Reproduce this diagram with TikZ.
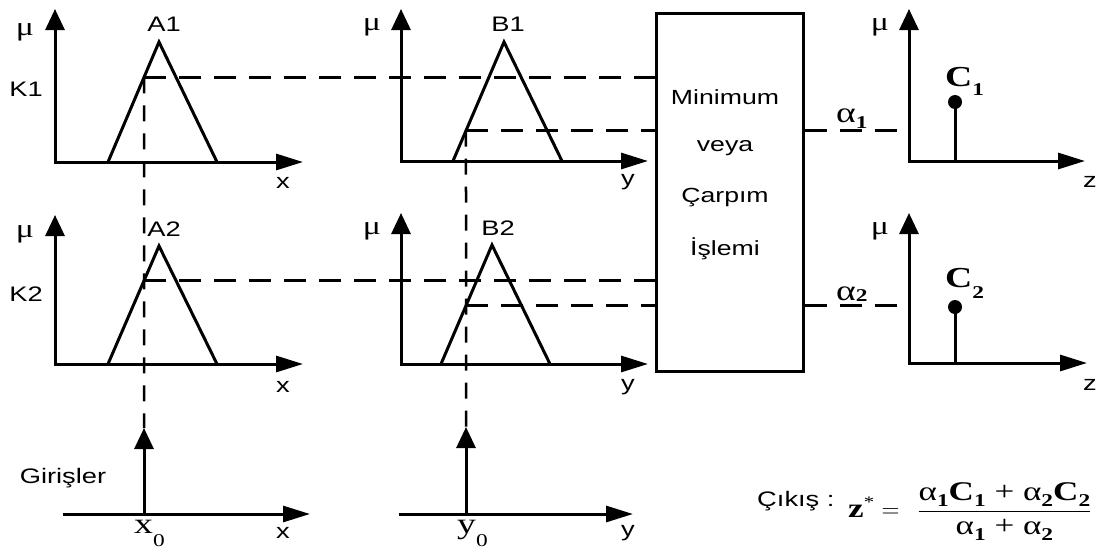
\documentclass[tikz,border=0pt]{standalone}
\usepackage{fontspec}
\setmainfont{Liberation Sans}[FakeStretch=1.3]
\newfontfamily\grk{Liberation Serif}[FakeStretch=1.3]
\usetikzlibrary{arrows.meta,positioning,calc}

% lowered bold index, as in alpha_1 or C_1
\newcommand{\bsub}[2]{\raisebox{#1}{\grk\bfseries\fontsize{18}{18}\selectfont #2}}

\tikzset{
  muaxes/.style={line width=3pt, line join=miter,
    {Triangle[length=21pt,width=19pt]}-{Triangle[length=27pt,width=16pt]}},
  inarrow/.style={line width=3pt, -{Triangle[length=21pt,width=19pt]}},
  inaxis/.style={line width=3pt, -{Triangle[length=27pt,width=16pt]}},
  mf/.style={line width=3pt, line join=miter},
  hguide/.style={line width=2.5pt, dash pattern=on 22pt off 13pt},
  vguide/.style={line width=2.5pt, dash pattern=on 16pt off 12pt},
  lbl/.style={font=\fontsize{21}{23}\selectfont, inner sep=0pt},
  mulbl/.style={font=\grk\fontsize{26}{26}\selectfont, inner sep=0pt},
  boxtxt/.style={font=\fontsize{20.5}{22}\selectfont, inner sep=0pt},
  clbl/.style={inner sep=0pt, anchor=base west, font=\grk\bfseries\fontsize{29}{29}\selectfont},
  albl/.style={inner sep=0pt, anchor=base west, font=\grk\fontsize{29}{29}\selectfont},
  dot/.style={circle, fill=black, minimum size=14pt, inner sep=0pt},
}

\begin{document}
\begin{tikzpicture}[x=1pt,y=-1pt]
    \useasboundingbox (0,0) rectangle (1103,552);

    % inputs x0 and y0
    \coordinate (x0) at (144,514);
    \coordinate (x0tip) at (144,428);
    \coordinate (x0sky) at (144,0);
    \coordinate (y0) at (466,514);
    \coordinate (y0tip) at (466,427);
    \coordinate (y0sky) at (466,0);

    % A1
    \coordinate (a1top) at (55,9);
    \coordinate (a1end) at (303,162);
    \coordinate (a1l) at (108,162);
    \coordinate (a1p) at (159,42);
    \coordinate (a1r) at (217,162);
    \draw[muaxes] (a1top) |- (a1end);
    \draw[mf] (a1l) -- (a1p) -- (a1r);
    \node[mulbl] (mua1) at (25,32) {μ};
    \node[lbl] (k1) at (26,89) {K1};
    \node[lbl] (a1lab) at (164,24) {A1};
    \node[lbl] (xa1) at (283,183) {x};

    % A2
    \coordinate (a2top) at (55,215);
    \coordinate (a2end) at (303,364);
    \coordinate (a2l) at (108,364);
    \coordinate (a2p) at (159,246);
    \coordinate (a2r) at (217,364);
    \draw[muaxes] (a2top) |- (a2end);
    \draw[mf] (a2l) -- (a2p) -- (a2r);
    \node[mulbl] (mua2) at (25,234) {μ};
    \node[lbl] (k2) at (26,294) {K2};
    \node[lbl] (a2lab) at (164,229) {A2};
    \node[lbl] (xa2) at (283,387) {x};

    % B1
    \coordinate (b1top) at (401,9);
    \coordinate (b1end) at (648,161);
    \coordinate (b1l) at (453,161);
    \coordinate (b1p) at (504,42);
    \coordinate (b1r) at (562,161);
    \draw[muaxes] (b1top) |- (b1end);
    \draw[mf] (b1l) -- (b1p) -- (b1r);
    \node[mulbl] (mub1) at (372,27) {μ};
    \node[lbl] (b1lab) at (508,24) {B1};
    \node[lbl] (yb1) at (628,182) {y};

    % B2
    \coordinate (b2top) at (401,213);
    \coordinate (b2end) at (648,364);
    \coordinate (b2l) at (441,364);
    \coordinate (b2p) at (492,245);
    \coordinate (b2r) at (550,364);
    \draw[muaxes] (b2top) |- (b2end);
    \draw[mf] (b2l) -- (b2p) -- (b2r);
    \node[mulbl] (mub2) at (372,231) {μ};
    \node[lbl] (b2lab) at (498,228) {B2};
    \node[lbl] (yb2) at (628,387) {y};

    % rule block
    \node[draw, line width=3pt, minimum width=147pt, minimum height=358pt,
          inner sep=0pt] (box) at (729.5,192) {};
    \node[boxtxt] (t1) at (725,97) {Minimum};
    \node[boxtxt] (t2) at (725,148) {veya};
    \node[boxtxt] (t3) at (725,198) {Çarpım};
    \node[boxtxt] (t4) at (725,249) {İşlemi};

    % membership degrees
    \coordinate (k1p) at (intersection of a1l--a1p and x0--x0sky);
    \coordinate (k2p) at (intersection of a2l--a2p and x0--x0sky);
    \coordinate (m1p) at (intersection of b1l--b1p and y0--y0sky);
    \coordinate (m2p) at (intersection of b2l--b2p and y0--y0sky);
    \draw[vguide] (k1p) -- (x0tip);
    \draw[vguide] (m1p) -- (y0tip);
    \draw[hguide] (k1p) -- (k1p -| box.west);
    \draw[hguide] (k2p) -- (k2p -| box.west);
    \draw[hguide] (m1p) -- (m1p -| box.west);
    \draw[hguide] (m2p) -- (m2p -| box.west);

    % C1
    \coordinate (c1top) at (909,9);
    \coordinate (c1end) at (1085,161);
    \coordinate (c1s) at (955,161);
    \coordinate (c1gap) at (899,161);
    \draw[muaxes] (c1top) |- (c1end);
    \node[dot] (c1dot) at (955,102) {};
    \draw[mf] (c1s) -- (c1dot.center);
    \node[mulbl] (muc1) at (880,27) {μ};
    \node[lbl] (zc1) at (1090,182) {z};
    \node[clbl] (c1lab) at (945,86) {C\bsub{-9pt}{1}};
    \draw[hguide] (m1p -| box.east) -- (m1p -| c1gap);
    \node[albl] (al1) at (836,122) {α\bsub{-6pt}{1}};

    % C2
    \coordinate (c2top) at (909,213);
    \coordinate (c2end) at (1087,363);
    \coordinate (c2s) at (955,363);
    \coordinate (c2gap) at (899,363);
    \draw[muaxes] (c2top) |- (c2end);
    \node[dot] (c2dot) at (955,307) {};
    \draw[mf] (c2s) -- (c2dot.center);
    \node[mulbl] (muc2) at (880,231) {μ};
    \node[lbl] (zc2) at (1090,385) {z};
    \node[clbl] (c2lab) at (945,287) {C\bsub{-11pt}{2}};
    \draw[hguide] (m2p -| box.east) -- (m2p -| c2gap);
    \node[albl] (al2) at (836,300) {α\bsub{-1pt}{2}};

    % input axes
    \coordinate (xin0) at (63,514);
    \coordinate (xin1) at (310,514);
    \coordinate (yin0) at (399,514);
    \coordinate (yin1) at (633,514);
    \draw[inaxis] (xin0) -- (xin1);
    \draw[inaxis] (yin0) -- (yin1);
    \draw[inarrow] (x0) -- (x0tip);
    \draw[inarrow] (y0) -- (y0tip);
    \node[lbl] (gir) at (63,478) {Girişler};
    \node[lbl] (xin) at (283,533) {x};
    \node[lbl] (yin) at (628,533) {y};
    \node[albl] (x0lab) at (134,533) {x\raisebox{-13pt}{\fontsize{18}{18}\selectfont 0}};
    \node[albl] (y0lab) at (457,533) {y\raisebox{-13pt}{\fontsize{18}{18}\selectfont 0}};

    % output
    \node[lbl, anchor=base west] (cik) at (757,506) {Çıkış :};
    \node[inner sep=0pt, anchor=base west, font=\grk\fontsize{27}{29}\selectfont]
        (zout) at (848,517) {$\mbox{\bfseries z}^{\mbox{\fontsize{16}{16}\selectfont *}}
        = \hskip 11pt\displaystyle\frac{\mbox{α\bsub{-6pt}{1}\textbf{C}\bsub{-6pt}{1} + α\bsub{-6pt}{2}\textbf{C}\bsub{-6pt}{2}}}
        {\mbox{α\bsub{-6pt}{1} + α\bsub{-6pt}{2}}}$};
\end{tikzpicture}
\end{document}
